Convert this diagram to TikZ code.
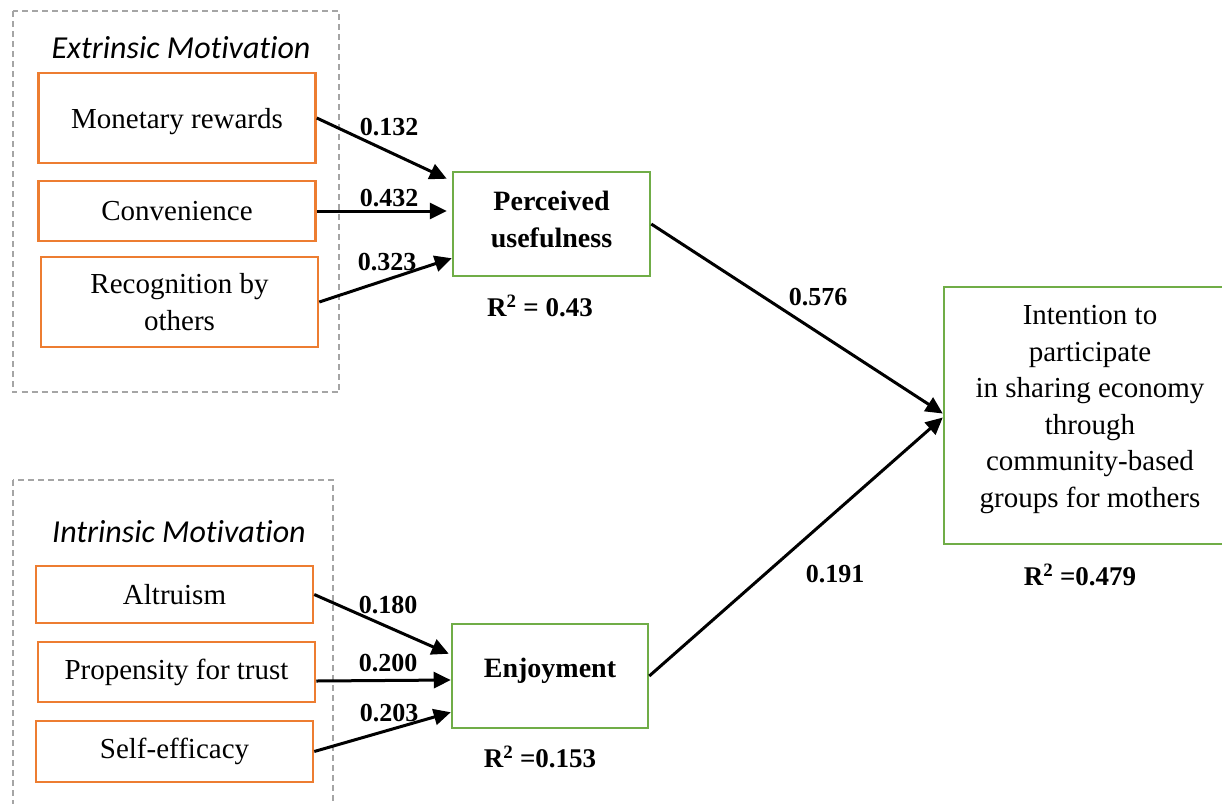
\documentclass[tikz,border=0pt]{standalone}
\usepackage{fontspec}
\setmainfont{Liberation Serif}
\newfontfamily\calfont[Ligatures=NoCommon]{Carlito}
\usetikzlibrary{arrows.meta,calc}
\definecolor{boxorange}{HTML}{ED7D31}
\definecolor{boxgreen}{HTML}{70AD47}
\definecolor{dashgray}{HTML}{A5A5A5}
\begin{document}
\begin{tikzpicture}[x=1pt,y=-1pt,
  obox/.style={draw=boxorange,line width=2.5pt,inner sep=0pt,align=center,
    minimum width=277pt,font=\fontsize{29}{37}\selectfont},
  gbox/.style={draw=boxgreen,line width=2.5pt,inner sep=0pt,align=center,
    font=\fontsize{29}{36.5}\selectfont},
  group/.style={draw=dashgray,line width=2pt,dash pattern=on 6pt off 4pt},
  grouptitle/.style={font=\calfont\itshape\fontsize{32}{36}\selectfont},
  coef/.style={font=\bfseries\fontsize{26}{30}\selectfont,inner sep=0pt},
  rsq/.style={font=\bfseries\fontsize{27}{30}\selectfont,inner sep=0pt},
  link/.style={line width=3pt,-{Triangle[length=17pt,width=16pt]}}]
\useasboundingbox (0,0) rectangle (1222,803);
\fill[white] (0,0) rectangle (1222,803);
% groups
\draw[group] (12.5,11) rectangle (339,392);
\draw[group] (12.5,480) rectangle (333,815);
\node[grouptitle] (ext) at (181,48) {Extrinsic Motivation};
\node[grouptitle] (intr) at (179,532) {Intrinsic Motivation};
% extrinsic boxes
\node[obox,minimum height=90pt] (mon) at (177,118) {\raisebox{-10pt}[0pt][0pt]{Monetary rewards}};
\node[obox,minimum height=60pt] (conv) at (177,211) {Convenience};
\node[obox,minimum height=90pt] (rec) at (179.5,302) {Recognition by\\others};
% intrinsic boxes
\node[obox,minimum height=57pt] (alt) at (174.5,594.5) {Altruism};
\node[obox,minimum height=60pt] (prop) at (176.5,672) {Propensity for trust};
\node[obox,minimum height=61pt] (self) at (174.5,751.5) {Self-efficacy};
% mediators
\node[gbox,minimum width=197pt,minimum height=104pt,font=\bfseries\fontsize{28}{37}\selectfont] (pu) at (551.5,224) {Perceived\\usefulness\\[-27pt]\mbox{}};
\node[gbox,minimum width=196pt,minimum height=104pt,font=\bfseries\fontsize{28}{37}\selectfont] (enj) at (550,676) {Enjoyment\\[-20pt]\mbox{}};
% outcome
\node[gbox,minimum width=292pt,minimum height=257pt] (int) at (1090,415.5)
  {Intention to\\participate\\in sharing economy\\through\\community-based\\groups for mothers\\[-18pt]\mbox{}};
% R squared
\node[rsq] (rpu) at (540,306) {R\textsuperscript{2} = 0.43};
\node[rsq] (renj) at (540,757) {R\textsuperscript{2} =0.153};
\node[rsq] (rint) at (1080,575) {R\textsuperscript{2} =0.479};
% arrows
\draw[link] (mon.east) -- ([shift={(-5,8)}]pu.north west);
\draw[link] (conv.east) -- ([xshift=-5pt]conv.east -| pu.west);
\draw[link] (rec.east) -- ([shift={(0,-19)}]pu.south west);
\draw[link] (alt.east) -- ([shift={(-2,31)}]enj.north west);
\draw[link] ([yshift=-9pt]prop.east) -- ([yshift=-4pt]enj.west);
\draw[link] (self.east) -- ([shift={(0,-17)}]enj.south west);
\draw[link] (pu.east) -- ([yshift=2pt]int.west);
\draw[link] (enj.east) -- ([yshift=-2pt]int.west);
% coefficients
\node[coef] (c1) at (389,127) {0.132};
\node[coef] (c2) at (389,198) {0.432};
\node[coef] (c3) at (387,262) {0.323};
\node[coef] (c4) at (388,605) {0.180};
\node[coef] (c5) at (388,663) {0.200};
\node[coef] (c6) at (389,713) {0.203};
\node[coef] (c7) at (818,297) {0.576};
\node[coef] (c8) at (835,574) {0.191};
\end{tikzpicture}
\end{document}
